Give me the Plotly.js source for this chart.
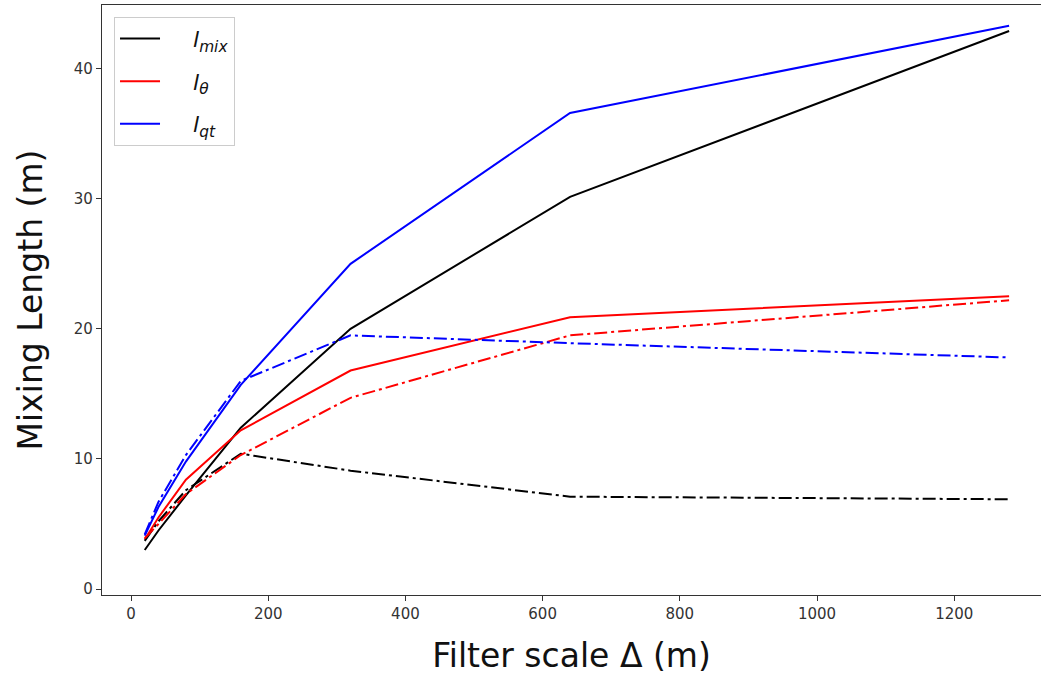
<!DOCTYPE html>
<html>
<head>
<meta charset="utf-8">
<script src="https://cdn.plot.ly/plotly-3.0.1.min.js"></script>
<style>html,body{margin:0;padding:0;background:#fff;}#chart{width:1041px;height:675px;}</style>
</head>
<body>
<div id="chart"></div>
<script>
const filterScale = [20, 40, 80, 160, 320, 640, 1280];
const lMix      = [3.0, 4.5, 7.2, 12.4, 20.0, 30.15, 42.9];
const lTheta    = [3.8, 5.5, 8.4, 12.2, 16.8, 20.9, 22.5];
const lQt       = [4.1, 6.3, 9.8, 15.7, 25.0, 36.6, 43.3];
const lMixDash   = [3.7, 5.2, 7.6, 10.4, 9.1, 7.1, 6.9];
const lThetaDash = [3.9, 5.0, 7.3, 10.3, 14.7, 19.5, 22.2];
const lQtDash    = [4.2, 6.7, 10.3, 16.0, 19.5, 18.9, 17.8];

const pad = '&nbsp;&nbsp;&nbsp;&nbsp;';
const names = [pad + '<i>l</i><sub><i>mix</i></sub>', pad + '<i>l</i><sub><i>θ</i></sub>', pad + '<i>l</i><sub><i>qt</i></sub>'];
const colors = ['#000000', '#ff0000', '#0000ff'];
const solid = [lMix, lTheta, lQt];
const dashed = [lMixDash, lThetaDash, lQtDash];

const traces = [];
for (let i = 0; i < 3; i++) {
  traces.push({x: filterScale, y: solid[i], mode: 'lines', name: names[i],
    legendgroup: 'g' + i, line: {color: colors[i], width: 2}});
}
for (let i = 0; i < 3; i++) {
  traces.push({x: filterScale, y: dashed[i], mode: 'lines', showlegend: false,
    legendgroup: 'g' + i, line: {color: colors[i], width: 2, dash: '13px,4px,3px,4px'}});
}

const font = 'DejaVu Sans, sans-serif';
const layout = {
  width: 1041, height: 675,
  margin: {l: 102, r: 0, t: 5, b: 80},
  paper_bgcolor: '#fff', plot_bgcolor: '#fff',
  font: {family: font, color: '#222'},
  xaxis: {
    range: [-42.3, 1326.5], tickvals: [0, 200, 400, 600, 800, 1000, 1200],
    showgrid: false, zeroline: false, showline: true, mirror: true,
    linecolor: '#333', linewidth: 1.2, ticks: 'outside', ticklen: 5, tickcolor: '#333',
    tickfont: {size: 15, family: font, color: '#333'},
    title: {text: 'Filter scale Δ (m)', font: {size: 33, family: font, color: '#111'}, standoff: 22}
  },
  yaxis: {
    range: [-0.46, 44.9], tickvals: [0, 10, 20, 30, 40],
    showgrid: false, zeroline: false, showline: true, mirror: false,
    linecolor: '#333', linewidth: 1.2, ticks: 'outside', ticklen: 5, tickcolor: '#333',
    tickfont: {size: 15, family: font, color: '#333'},
    title: {text: 'Mixing Length (m)', font: {size: 33, family: font, color: '#111'}, standoff: 21}
  },
  legend: {
    x: 0.0128, y: 0.98, xanchor: 'left', yanchor: 'top',
    bgcolor: 'rgba(255,255,255,0.9)', bordercolor: '#cccccc', borderwidth: 1,
    font: {size: 22, family: font, color: '#111'},
    tracegroupgap: 11, itemwidth: 40
  },
  showlegend: true
};

Plotly.newPlot('chart', traces, layout, {displayModeBar: false, staticPlot: true});
</script>
</body>
</html>
